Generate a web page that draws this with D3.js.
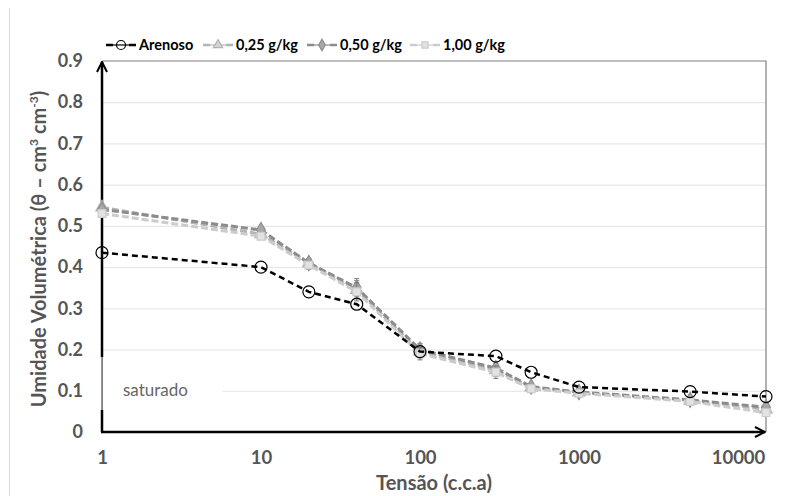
<!DOCTYPE html>
<html>
<head>
<meta charset="utf-8">
<script src="https://cdn.jsdelivr.net/npm/d3@7"></script>
<style>
  body { margin: 0; background: #fff; }
  text { font-family: Lato, "Open Sans", sans-serif; }
</style>
</head>
<body>
<svg id="chart" width="789" height="496"></svg>
<script>
// tension (c.c.a) values
const tensao = [1, 10, 20, 40, 100, 300, 500, 1000, 5000, 15000];

const arenoso = [0.435, 0.40, 0.34, 0.31, 0.195, 0.184, 0.145, 0.109, 0.098, 0.086];
const g025 = [0.545, 0.48, 0.41, 0.345, 0.195, 0.150, 0.108, 0.096, 0.076, 0.055];
const g050 = [0.540, 0.49, 0.41, 0.350, 0.200, 0.155, 0.110, 0.097, 0.078, 0.060];
const g100 = [0.530, 0.475, 0.405, 0.340, 0.190, 0.145, 0.105, 0.094, 0.074, 0.047];
const errGray = [0.006, 0.008, 0.01, 0.022, 0.015, 0.015, 0.006, 0.004, 0.004, 0.008];

const yTicks = [0, 0.1, 0.2, 0.3, 0.4, 0.5, 0.6, 0.7, 0.8, 0.9];
const xTicks = [1, 10, 100, 1000, 10000];

const series = [
  { name: "0,25 g/kg", values: g025, color: "#b4b4b4", fill: "#d4d4d4", shape: d3.symbolTriangle },
  { name: "0,50 g/kg", values: g050, color: "#8c8c8c", fill: "#a8a8a8", shape: d3.symbolDiamond },
  { name: "1,00 g/kg", values: g100, color: "#cccccc", fill: "#e2e2e2", shape: d3.symbolSquare }
];

const svg = d3.select("#chart");
const pLeft = 102, pRight = 766, pTop = 61, pBottom = 432;

const x = d3.scaleLog().domain([1, 15000]).range([pLeft, pRight]);
const y = d3.scaleLinear().domain([0, 0.9]).range([pBottom, pTop]);

// outer frame line
svg.append("line").attr("x1", 9.5).attr("x2", 9.5).attr("y1", 8).attr("y2", 496)
  .attr("stroke", "#d9d9d9");

// gridlines
svg.append("g")
  .attr("transform", `translate(${pLeft},0)`)
  .call(d3.axisLeft(y).tickValues(yTicks.slice(1, -1)).tickSize(-(pRight - pLeft)).tickFormat(""))
  .call(g => g.select(".domain").remove())
  .call(g => g.selectAll("line").attr("stroke", "#e3e3e3"));

// plot area border
svg.append("path")
  .attr("d", `M${pLeft},${pTop}H${pRight}V${pBottom}`)
  .attr("fill", "none").attr("stroke", "#7f7f7f").attr("stroke-width", 1.2);

// arrow markers
const defs = svg.append("defs");
defs.append("marker").attr("id", "arr")
  .attr("viewBox", "0 0 10 10").attr("refX", 9).attr("refY", 5)
  .attr("markerWidth", 5).attr("markerHeight", 5).attr("orient", "auto")
  .attr("markerUnits", "strokeWidth")
  .append("path").attr("d", "M1,1 L9,5 L1,9").attr("fill", "none")
  .attr("stroke", "#000").attr("stroke-width", 1.6);

// y axis (arrow)
svg.append("line").attr("x1", pLeft).attr("x2", pLeft).attr("y1", pBottom).attr("y2", pTop + 1)
  .attr("stroke", "#000").attr("stroke-width", 2.5).attr("marker-end", "url(#arr)");
// x axis (arrow)
svg.append("line").attr("x1", pLeft - 1).attr("x2", pRight - 1).attr("y1", pBottom).attr("y2", pBottom)
  .attr("stroke", "#000").attr("stroke-width", 2.5).attr("marker-end", "url(#arr)");

// tick labels
svg.append("g")
  .attr("transform", `translate(${pLeft - 16},0)`)
  .call(d3.axisLeft(y).tickValues(yTicks).tickSize(0).tickFormat(d => d === 0 ? "0" : d3.format(".1f")(d)))
  .call(g => g.select(".domain").remove())
  .call(g => g.selectAll("text").attr("font-size", 18).attr("font-weight", "bold")
    .attr("fill", "#555").attr("font-family", "Lato, sans-serif"));

svg.append("g")
  .attr("transform", `translate(0,${pBottom + 16})`)
  .call(d3.axisBottom(x).tickValues(xTicks).tickSize(0).tickFormat(d3.format("d")))
  .call(g => g.select(".domain").remove())
  .call(g => g.selectAll("text").attr("font-size", 18.5).attr("font-weight", "bold")
    .attr("fill", "#555").attr("font-family", "Lato, sans-serif"));

// axis titles
svg.append("text").attr("x", 434).attr("y", 490).attr("text-anchor", "middle")
  .attr("font-size", 20).attr("font-weight", "bold").attr("fill", "#555")
  .text("Tensão (c.c.a)");

const yt = svg.append("text").attr("transform", "translate(46,249) rotate(-90)")
  .attr("text-anchor", "middle").attr("font-size", 20).attr("font-weight", "bold").attr("fill", "#555");
yt.append("tspan").text("Umidade Volumétrica (θ – cm");
yt.append("tspan").attr("font-size", 12).attr("dy", -8).text("3");
yt.append("tspan").attr("dy", 8).text(" cm");
yt.append("tspan").attr("font-size", 12).attr("dy", -8).text("-3");
yt.append("tspan").attr("dy", 8).text(")");

// "saturado" box over the y axis
svg.append("rect").attr("x", pLeft + 0.5).attr("y", 357).attr("width", 120).attr("height", 53)
  .attr("fill", "#fff");
svg.append("rect").attr("x", pLeft - 2).attr("y", 357).attr("width", 2).attr("height", 53)
  .attr("fill", "#fff");
svg.append("line").attr("x1", pLeft - 0.5).attr("x2", pLeft - 0.5).attr("y1", 357).attr("y2", 410)
  .attr("stroke", "#999").attr("stroke-width", 1);
svg.append("text").attr("x", 123).attr("y", 396).attr("font-size", 17)
  .attr("fill", "#666").attr("font-family", "Lato, 'Open Sans', sans-serif").text("saturado");

const line = d3.line().x((d, i) => x(tensao[i])).y(d => y(d));

// gray series
series.forEach(s => {
  const g = svg.append("g");
  g.selectAll(".err").data(s.values).join("path")
    .attr("d", (d, i) => {
      const xx = x(tensao[i]), e = errGray[i];
      return `M${xx},${y(d - e)}V${y(d + e)}M${xx - 2.5},${y(d + e)}H${xx + 2.5}M${xx - 2.5},${y(d - e)}H${xx + 2.5}`;
    })
    .attr("stroke", "#777").attr("stroke-width", 1).attr("fill", "none");
  g.append("path").datum(s.values).attr("d", line)
    .attr("fill", "none").attr("stroke", s.color).attr("stroke-width", 3)
    .attr("stroke-dasharray", "7,3");
  g.selectAll(".m").data(s.values).join("path")
    .attr("transform", (d, i) => `translate(${x(tensao[i])},${y(d)})`)
    .attr("d", d3.symbol().type(s.shape).size(s.shape === d3.symbolSquare ? 60 : 65))
    .attr("fill", s.fill).attr("stroke", s.color).attr("stroke-width", 1.2);
});

// arenoso series
svg.append("path").datum(arenoso).attr("d", line)
  .attr("fill", "none").attr("stroke", "#000").attr("stroke-width", 2.5)
  .attr("stroke-dasharray", "6,4");
svg.selectAll(".circ").data(arenoso).join("circle")
  .attr("cx", (d, i) => x(tensao[i])).attr("cy", d => y(d)).attr("r", 6)
  .attr("fill", "none").attr("stroke", "#000").attr("stroke-width", 1.2);

// legend
const legendItems = [
  { name: "Arenoso", color: "#000", fill: "none", shape: null, x: 106 },
  { name: series[0].name, color: series[0].color, fill: series[0].fill, shape: series[0].shape, x: 203 },
  { name: series[1].name, color: series[1].color, fill: series[1].fill, shape: series[1].shape, x: 307 },
  { name: series[2].name, color: series[2].color, fill: series[2].fill, shape: series[2].shape, x: 410 }
];
const ly = 45;
legendItems.forEach(it => {
  const g = svg.append("g").attr("transform", `translate(${it.x},${ly})`);
  g.append("path").attr("d", "M0,0H7M23,0H30").attr("stroke", it.color).attr("stroke-width", 2.5);
  g.append("path").attr("d", "M7,0H23").attr("stroke", it.color).attr("stroke-width", 1.2);
  if (it.shape) {
    g.append("path").attr("transform", "translate(15,0)")
      .attr("d", d3.symbol().type(it.shape).size(38))
      .attr("fill", it.fill).attr("stroke", it.color).attr("stroke-width", 1.2);
  } else {
    g.append("circle").attr("cx", 15).attr("cy", 0).attr("r", 4.5)
      .attr("fill", "none").attr("stroke", "#000").attr("stroke-width", 1.2);
  }
  g.append("text").attr("x", 33).attr("y", 5).attr("font-size", 14.5).attr("font-weight", "bold")
    .attr("fill", "#000").text(it.name);
});
</script>
</body>
</html>
